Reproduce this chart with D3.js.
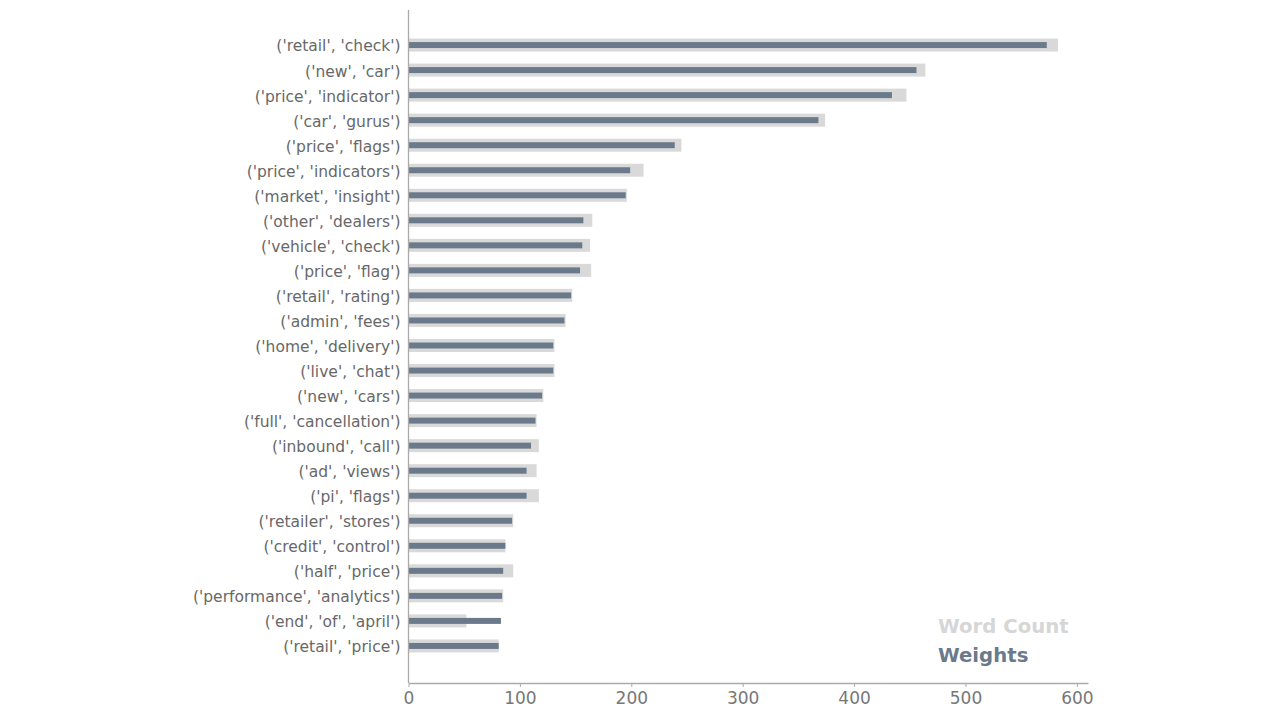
<!DOCTYPE html>
<html>
<head>
<meta charset="utf-8">
<script src="https://cdn.jsdelivr.net/npm/d3@7"></script>
<style>
  body { margin: 0; background: #fff; }
  svg { display: block; font-family: "DejaVu Sans", sans-serif; }
</style>
</head>
<body>
<svg id="chart" width="1280" height="720"></svg>
<script>
// bigram labels, top to bottom
const bigrams = [
  "('retail', 'check')", "('new', 'car')", "('price', 'indicator')", "('car', 'gurus')",
  "('price', 'flags')", "('price', 'indicators')", "('market', 'insight')", "('other', 'dealers')",
  "('vehicle', 'check')", "('price', 'flag')", "('retail', 'rating')", "('admin', 'fees')",
  "('home', 'delivery')", "('live', 'chat')", "('new', 'cars')", "('full', 'cancellation')",
  "('inbound', 'call')", "('ad', 'views')", "('pi', 'flags')", "('retailer', 'stores')",
  "('credit', 'control')", "('half', 'price')", "('performance', 'analytics')",
  "('end', 'of', 'april')", "('retail', 'price')"
];

const wordCount = [583, 464, 447, 374, 245, 211, 196, 165, 163, 164, 147, 141, 131, 131, 121,
  115, 117, 115, 117, 94, 87, 94, 85, 52, 81];

const weights = [573, 456, 434, 368, 239, 199, 195, 157, 156, 154, 146, 140, 130, 130, 120,
  114, 110, 106, 106, 93, 87, 85, 84, 83, 81];

const xTicks = [0, 100, 200, 300, 400, 500, 600];

const svg = d3.select('#chart');

const plotLeft = 408.5, plotRight = 1088, plotTop = 10, plotBottom = 683;

const x = d3.scaleLinear().domain([0, 610]).range([plotLeft, plotRight]);
const y = d3.scaleLinear().domain([-1.4, 25.48]).range([plotTop, plotBottom]);

// word count bars (wide, light)
svg.append('g')
  .selectAll('rect')
  .data(wordCount)
  .enter().append('rect')
  .attr('x', x(0))
  .attr('y', (d, i) => y(i) - 6.5)
  .attr('width', d => x(d) - x(0))
  .attr('height', 13)
  .attr('fill', '#d9d9d9');

// weight bars (thin, dark)
svg.append('g')
  .selectAll('rect')
  .data(weights)
  .enter().append('rect')
  .attr('x', x(0))
  .attr('y', (d, i) => y(i) - 3)
  .attr('width', d => x(d) - x(0))
  .attr('height', 6)
  .attr('fill', '#6b7a8b');

// category labels
svg.append('g')
  .selectAll('text')
  .data(bigrams)
  .enter().append('text')
  .attr('x', plotLeft - 8)
  .attr('y', (d, i) => y(i) + 1)
  .attr('dy', '0.35em')
  .attr('text-anchor', 'end')
  .attr('font-size', '15.5px')
  .attr('fill', '#686868')
  .text(d => d);

// spines
svg.append('line')
  .attr('x1', plotLeft).attr('x2', plotLeft)
  .attr('y1', plotTop).attr('y2', plotBottom)
  .attr('stroke', '#aaa').attr('stroke-width', 1.3);

const xAxis = svg.append('g')
  .attr('transform', `translate(0,${plotBottom})`)
  .call(d3.axisBottom(x).tickValues(xTicks).tickSize(4).tickPadding(5).tickSizeOuter(0));

xAxis.select('.domain').attr('stroke', '#aaa').attr('stroke-width', 1.3);
xAxis.selectAll('.tick line').attr('stroke', '#aaa');
xAxis.selectAll('.tick text')
  .attr('font-size', '17px')
  .attr('font-family', '"DejaVu Sans", sans-serif')
  .attr('fill', '#777');

// legend as colored text
svg.append('text')
  .attr('x', 938).attr('y', 633)
  .attr('font-size', '19.7px').attr('font-weight', 'bold')
  .attr('fill', '#d6d6d6')
  .text('Word Count');

svg.append('text')
  .attr('x', 938).attr('y', 662)
  .attr('font-size', '19.7px').attr('font-weight', 'bold')
  .attr('fill', '#6b7a8b')
  .text('Weights');
</script>
</body>
</html>
